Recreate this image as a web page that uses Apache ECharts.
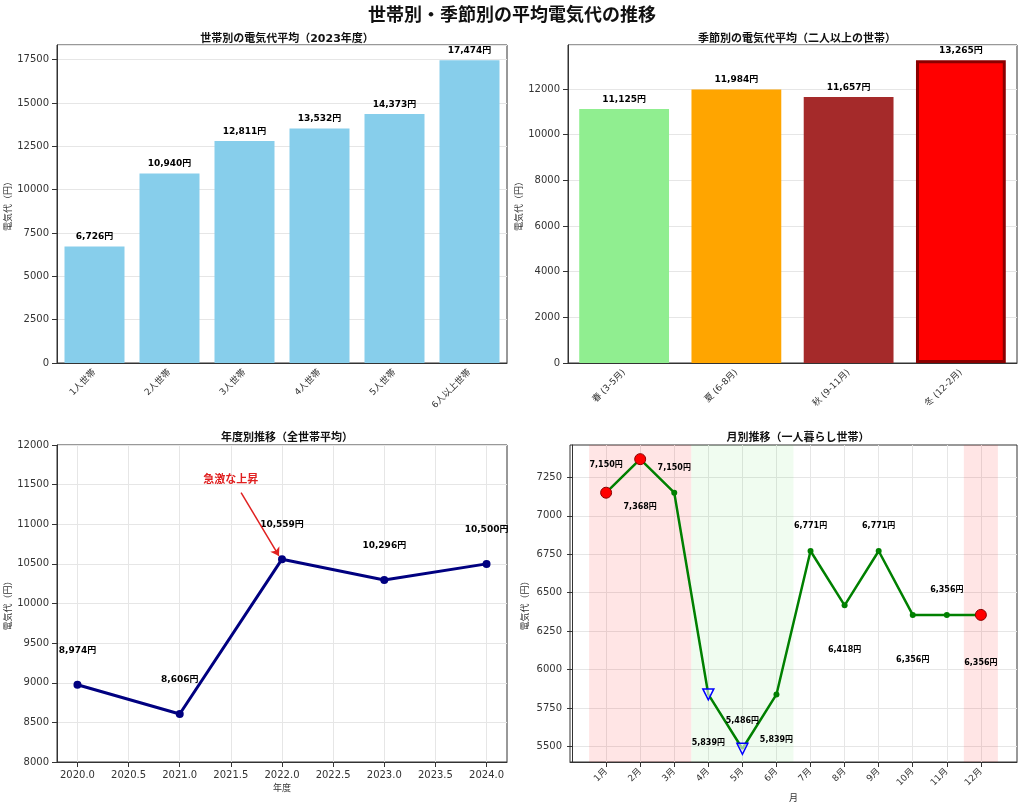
<!DOCTYPE html>
<html><head><meta charset="utf-8">
<script src="https://cdn.jsdelivr.net/npm/echarts@6/dist/echarts.min.js"></script>
<style>html,body{margin:0;padding:0;background:#fff}#c{width:1024px;height:812px}</style>
</head><body><div id="c"></div>
<script>
const householdCats = ['1人世帯','2人世帯','3人世帯','4人世帯','5人世帯','6人以上世帯'];
const householdVals = [6726,10940,12811,13532,14373,17474];
const seasonCats = ['春 (3-5月)','夏 (6-8月)','秋 (9-11月)','冬 (12-2月)'];
const seasonVals = [11125,11984,11657,13265];
const years = [2020,2021,2022,2023,2024];
const yearVals = [8974,8606,10559,10296,10500];
const yearTicks = [2020,2020.5,2021,2021.5,2022,2022.5,2023,2023.5,2024];
const months = [1,2,3,4,5,6,7,8,9,10,11,12];
const monthVals = [7150,7368,7150,5839,5486,5839,6771,6418,6771,6356,6356,6356];
const monthYTicks = [5500,5750,6000,6250,6500,6750,7000,7250];

const F = 'DejaVu Sans, Noto Sans CJK JP, sans-serif';
const fmt = v => v.toLocaleString('en-US') + '円';
const plain = v => String(v);
const axisCommon = {
  axisLine:{show:true,lineStyle:{color:'#333'}}, axisTick:{show:true,lineStyle:{color:'#333'}},
  axisLabel:{color:'#333',fontSize:10,fontFamily:F,formatter:plain},
  splitLine:{show:true,lineStyle:{color:'#e6e6e6'}}
};
const yName = {name:'電気代（円）',nameLocation:'middle',nameGap:40,nameTextStyle:{fontSize:9,color:'#333',fontFamily:F}};
const grids = [
  {left:57,right:517,top:45,bottom:449,show:true,borderColor:'#333',borderWidth:1},
  {left:568,right:7,top:45,bottom:449,show:true,borderColor:'#333',borderWidth:1},
  {left:57,right:517,top:445,bottom:50,show:true,borderColor:'#333',borderWidth:1},
  {left:570,right:7,top:445,bottom:50,show:true,borderColor:'#333',borderWidth:1}
];
const seasonColors = ['#90EE90','#FFA500','#A52A2A','#FF0000'];
const monthMarker = i => {
  if (i===0||i===1||i===11) return {symbol:'circle',symbolSize:11,itemStyle:{color:'#FF0000',borderColor:'#8B0000',borderWidth:1}};
  if (i===3||i===4) return {symbol:'triangle',symbolRotate:180,symbolSize:11,itemStyle:{color:'rgba(255,255,255,0.6)',borderColor:'#0000FF',borderWidth:1.5}};
  return {symbol:'circle',symbolSize:6,itemStyle:{color:'#008000'}};
};
const catLabel = {rotate:45,fontSize:9,color:'#333',fontFamily:F};
const opt = {
  animation:false,
  title:[
    {text:'世帯別・季節別の平均電気代の推移',left:'center',top:2,textStyle:{fontSize:18,fontWeight:'bold',color:'#111',fontFamily:F}},
    {text:'世帯別の電気代平均（2023年度）',left:282,textAlign:'center',top:29,textStyle:{fontSize:11,fontWeight:'bold',color:'#111',fontFamily:F}},
    {text:'季節別の電気代平均（二人以上の世帯）',left:792,textAlign:'center',top:29,textStyle:{fontSize:11,fontWeight:'bold',color:'#111',fontFamily:F}},
    {text:'年度別推移（全世帯平均）',left:282,textAlign:'center',top:428,textStyle:{fontSize:11,fontWeight:'bold',color:'#111',fontFamily:F}},
    {text:'月別推移（一人暮らし世帯）',left:793,textAlign:'center',top:428,textStyle:{fontSize:11,fontWeight:'bold',color:'#111',fontFamily:F}}
  ],
  grid:grids,
  xAxis:[
    Object.assign({},axisCommon,{gridIndex:0,type:'category',data:householdCats,splitLine:{show:false},axisTick:{alignWithLabel:true},axisLabel:catLabel}),
    Object.assign({},axisCommon,{gridIndex:1,type:'category',data:seasonCats,splitLine:{show:false},axisTick:{alignWithLabel:true},axisLabel:catLabel}),
    Object.assign({},axisCommon,{gridIndex:2,type:'value',min:2019.8,max:2024.2,
      axisLabel:{color:'#333',fontSize:10,fontFamily:F,customValues:yearTicks,formatter:v=>v.toFixed(1)},
      axisTick:{show:true,customValues:yearTicks},
      name:'年度',nameLocation:'middle',nameGap:22,nameTextStyle:{fontSize:9,color:'#333',fontFamily:F}}),
    Object.assign({},axisCommon,{gridIndex:3,type:'value',min:-0.06,max:13.06,
      axisLabel:{color:'#333',fontSize:9,fontFamily:F,rotate:45,customValues:months,formatter:v=>Math.round(v)+'月'},
      axisTick:{show:true,customValues:months},
      name:'月',nameLocation:'middle',nameGap:32,nameTextStyle:{fontSize:9,color:'#333',fontFamily:F}})
  ],
  yAxis:[
    Object.assign({},axisCommon,yName,{gridIndex:0,type:'value',min:0,max:18350,interval:2500,axisLabel:{color:'#333',fontSize:10,fontFamily:F,showMaxLabel:false,formatter:plain}}),
    Object.assign({},axisCommon,yName,{gridIndex:1,type:'value',min:0,max:13930,interval:2000,axisLabel:{color:'#333',fontSize:10,fontFamily:F,showMaxLabel:false,formatter:plain}}),
    Object.assign({},axisCommon,yName,{gridIndex:2,type:'value',min:8000,max:12000,interval:500}),
    Object.assign({},axisCommon,yName,{gridIndex:3,type:'value',min:5400,max:7460,
      axisLabel:{color:'#333',fontSize:10,fontFamily:F,customValues:monthYTicks,formatter:plain},
      axisTick:{show:true,customValues:monthYTicks}})
  ],
  series:[
    {type:'bar',xAxisIndex:0,yAxisIndex:0,barWidth:'80%',data:householdVals,
      itemStyle:{color:'#87CEEB'},label:{show:true,position:'top',fontWeight:'bold',fontSize:9,color:'#000',fontFamily:F,formatter:p=>fmt(p.value)}},
    {type:'bar',xAxisIndex:1,yAxisIndex:1,barWidth:'80%',
      data:seasonVals.map((v,i)=>({value:v,itemStyle:{color:seasonColors[i],borderColor:i===3?'#8B0000':seasonColors[i],borderWidth:i===3?3:0}})),
      label:{show:true,position:'top',fontWeight:'bold',fontSize:9,color:'#000',fontFamily:F,formatter:p=>fmt(p.value)}},
    {type:'line',xAxisIndex:2,yAxisIndex:2,data:years.map((y,i)=>[y,yearVals[i]]),
      lineStyle:{color:'#000080',width:3},itemStyle:{color:'#000080'},symbol:'circle',symbolSize:8,
      label:{show:true,position:'top',distance:26,fontWeight:'bold',fontSize:9,color:'#000',fontFamily:F,formatter:p=>fmt(p.value[1])},
      markLine:{silent:true,symbol:['none','arrow'],symbolSize:8,lineStyle:{color:'#e02020',width:1.5,type:'solid'},label:{show:false},
        data:[[{coord:[2021.6,11400]},{coord:[2021.97,10600]}]]},
      markPoint:{symbol:'circle',symbolSize:1,itemStyle:{color:'transparent'},
        data:[{coord:[2021.5,11560],label:{show:true,formatter:'急激な上昇',color:'#e02020',fontWeight:'bold',fontSize:11,fontFamily:F}}]}},
    {type:'line',xAxisIndex:3,yAxisIndex:3,z:3,
      data:months.map((m,i)=>Object.assign({value:[m,monthVals[i]],
        label:{position:i%2===0?'top':'bottom',distance:i%2===0?18:38}},monthMarker(i))),
      lineStyle:{color:'#008000',width:2.5},
      label:{show:true,fontWeight:'bold',fontSize:8,color:'#000',fontFamily:F,formatter:p=>fmt(p.value[1])},
      markArea:{silent:true,data:[
        [{xAxis:0.5,itemStyle:{color:'rgba(255,0,0,0.1)'}},{xAxis:3.5}],
        [{xAxis:3.5,itemStyle:{color:'rgba(0,200,0,0.06)'}},{xAxis:6.5}],
        [{xAxis:11.5,itemStyle:{color:'rgba(255,0,0,0.1)'}},{xAxis:12.5}]
      ]}}
  ]
};
echarts.init(document.getElementById('c')).setOption(opt);
</script></body></html>
